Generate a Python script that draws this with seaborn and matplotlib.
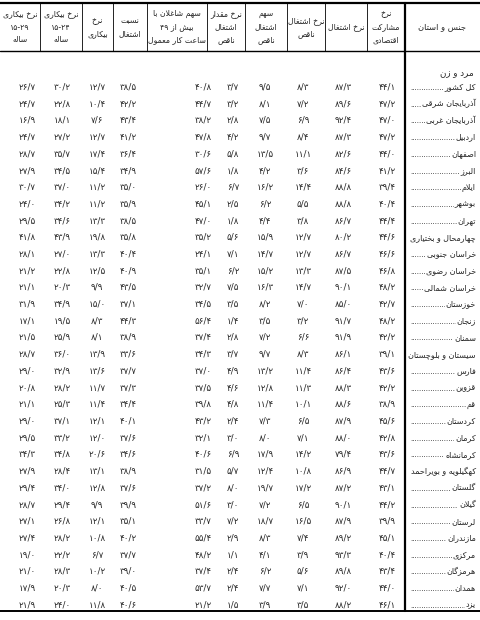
import re
import matplotlib
matplotlib.use("Agg")
import matplotlib.pyplot as plt
import seaborn as sns

# provinces, top to bottom
provinces = ["کل کشور", "آذربایجان شرقی", "آذربایجان غربی", "اردبیل", "اصفهان", "البرز",
             "ایلام", "بوشهر", "تهران", "چهارمحال و بختیاری", "خراسان جنوبی", "خراسان رضوی",
             "خراسان شمالی", "خوزستان", "زنجان", "سمنان", "سیستان و بلوچستان", "فارس",
             "قزوین", "قم", "کردستان", "کرمان", "کرمانشاه", "کهگیلویه و بویراحمد", "گلستان",
             "گیلان", "لرستان", "مازندران", "مرکزی", "هرمزگان", "همدان", "یزد"]

participation = [44.1, 47.2, 47.0, 47.2, 44.0, 41.2, 39.4, 40.4, 44.4, 44.6, 46.6, 46.8, 48.2, 42.7, 48.2, 42.2,
                 39.1, 43.6, 42.2, 38.9, 45.6, 42.8, 43.6, 44.7, 43.1, 44.2, 39.9, 45.1, 40.4, 43.4, 44.0, 46.1]
employment = [87.3, 89.6, 92.4, 87.3, 82.6, 84.6, 88.8, 88.8, 86.7, 80.2, 86.7, 87.5, 90.1, 85.0, 91.7, 91.9,
              86.1, 86.4, 88.3, 88.6, 87.9, 88.0, 79.4, 86.9, 87.2, 90.1, 87.9, 89.2, 93.3, 89.8, 92.0, 88.2]
underemp_rate = [8.3, 7.2, 6.9, 8.4, 11.1, 3.6, 14.4, 5.5, 3.8, 12.7, 12.7, 13.3, 14.7, 7.0, 3.2, 6.6,
                 8.3, 11.4, 11.3, 10.1, 6.5, 7.1, 14.2, 10.8, 17.2, 6.5, 16.5, 7.4, 3.9, 5.6, 7.1, 3.5]
underemp_share = [9.5, 8.1, 7.5, 9.7, 13.5, 4.2, 16.2, 6.2, 4.4, 15.9, 14.7, 15.2, 16.3, 8.2, 3.5, 7.2,
                  9.7, 13.2, 12.8, 11.4, 7.3, 8.0, 17.9, 12.4, 19.7, 7.2, 18.7, 8.3, 4.1, 6.2, 7.7, 3.9]
underemp_amount = [3.7, 3.2, 2.8, 4.2, 5.8, 1.8, 6.7, 2.5, 1.8, 5.6, 7.1, 6.2, 7.5, 3.5, 1.4, 2.8,
                   3.7, 4.9, 4.6, 4.8, 2.4, 3.0, 6.9, 5.7, 8.0, 3.0, 7.2, 2.9, 1.1, 2.4, 2.4, 1.5]
over49_share = [40.8, 44.7, 38.2, 47.8, 30.6, 57.6, 26.0, 45.1, 47.0, 35.2, 24.1, 35.1, 32.7, 34.5, 56.4, 37.4,
                34.3, 37.0, 37.5, 39.8, 43.2, 32.1, 40.6, 31.5, 37.2, 51.6, 33.7, 55.4, 48.2, 37.4, 53.7, 21.2]
emp_ratio = [38.5, 42.2, 43.4, 41.2, 36.4, 34.9, 35.0, 35.9, 38.5, 35.8, 40.4, 40.9, 43.5, 37.1, 44.3, 38.9,
             33.6, 37.7, 37.3, 34.4, 40.1, 37.6, 34.6, 38.9, 37.6, 39.9, 35.1, 40.2, 37.7, 39.0, 40.5, 40.6]
unemployment = [12.7, 10.4, 7.6, 12.7, 17.4, 15.4, 11.2, 11.2, 13.3, 19.8, 13.3, 12.5, 9.9, 15.0, 8.3, 8.1,
                13.9, 13.6, 11.7, 11.4, 12.1, 12.0, 20.6, 13.1, 12.8, 9.9, 12.1, 10.8, 6.7, 10.2, 8.0, 11.8]
unemp_15_24 = [30.2, 22.8, 18.1, 27.2, 35.7, 34.5, 37.0, 34.2, 34.6, 43.9, 27.0, 22.8, 20.3, 34.9, 19.5, 25.9,
               36.0, 32.9, 28.2, 25.3, 37.1, 33.2, 34.8, 28.4, 34.0, 29.4, 26.8, 28.2, 22.2, 28.3, 20.3, 24.0]
unemp_15_29 = [26.7, 24.7, 16.9, 24.7, 28.7, 27.9, 30.7, 24.0, 29.5, 41.8, 28.1, 21.2, 21.1, 31.9, 17.1, 21.5,
               28.7, 29.0, 20.8, 21.1, 29.0, 29.5, 34.3, 27.9, 29.4, 28.7, 27.1, 27.4, 19.0, 21.0, 17.9, 21.9]

headers = [
    ["نرخ بیکاری", "۱۵-۲۹", "ساله"],
    ["نرخ بیکاری", "۱۵-۲۴", "ساله"],
    ["نرخ", "بیکاری"],
    ["نسبت", "اشتغال"],
    ["سهم شاغلان با", "بیش از ۴۹", "ساعت کار معمول"],
    ["نرخ مقدار", "اشتغال", "ناقص"],
    ["سهم", "اشتغال", "ناقص"],
    ["نرخ اشتغال", "ناقص"],
    ["نرخ اشتغال"],
    ["نرخ", "مشارکت", "اقتصادی"],
]
name_header = "جنس و استان"
group_label = "مرد و زن"

# minimal Arabic-script shaping (matplotlib has no complex text layout)
FORMS = {
    "ا": (0xFE8D, 0xFE8E, None, None), "آ": (0xFE81, 0xFE82, None, None),
    "ب": (0xFE8F, 0xFE90, 0xFE91, 0xFE92), "پ": (0xFB56, 0xFB57, 0xFB58, 0xFB59),
    "ت": (0xFE95, 0xFE96, 0xFE97, 0xFE98), "ث": (0xFE99, 0xFE9A, 0xFE9B, 0xFE9C),
    "ج": (0xFE9D, 0xFE9E, 0xFE9F, 0xFEA0), "چ": (0xFB7A, 0xFB7B, 0xFB7C, 0xFB7D),
    "ح": (0xFEA1, 0xFEA2, 0xFEA3, 0xFEA4), "خ": (0xFEA5, 0xFEA6, 0xFEA7, 0xFEA8),
    "د": (0xFEA9, 0xFEAA, None, None), "ذ": (0xFEAB, 0xFEAC, None, None),
    "ر": (0xFEAD, 0xFEAE, None, None), "ز": (0xFEAF, 0xFEB0, None, None),
    "ژ": (0xFB8A, 0xFB8B, None, None),
    "س": (0xFEB1, 0xFEB2, 0xFEB3, 0xFEB4), "ش": (0xFEB5, 0xFEB6, 0xFEB7, 0xFEB8),
    "ص": (0xFEB9, 0xFEBA, 0xFEBB, 0xFEBC), "ض": (0xFEBD, 0xFEBE, 0xFEBF, 0xFEC0),
    "ط": (0xFEC1, 0xFEC2, 0xFEC3, 0xFEC4), "ظ": (0xFEC5, 0xFEC6, 0xFEC7, 0xFEC8),
    "ع": (0xFEC9, 0xFECA, 0xFECB, 0xFECC), "غ": (0xFECD, 0xFECE, 0xFECF, 0xFED0),
    "ف": (0xFED1, 0xFED2, 0xFED3, 0xFED4), "ق": (0xFED5, 0xFED6, 0xFED7, 0xFED8),
    "ک": (0xFB8E, 0xFB8F, 0xFB90, 0xFB91), "گ": (0xFB92, 0xFB93, 0xFB94, 0xFB95),
    "ل": (0xFEDD, 0xFEDE, 0xFEDF, 0xFEE0), "م": (0xFEE1, 0xFEE2, 0xFEE3, 0xFEE4),
    "ن": (0xFEE5, 0xFEE6, 0xFEE7, 0xFEE8), "و": (0xFEED, 0xFEEE, None, None),
    "ه": (0xFEE9, 0xFEEA, 0xFEEB, 0xFEEC), "ی": (0xFBFC, 0xFBFD, 0xFBFE, 0xFBFF),
}


def dual(ch):
    return ch in FORMS and FORMS[ch][2] is not None


def shape(text):
    out = []
    i = 0
    while i < len(text):
        c = text[i]
        if c not in FORMS:
            out.append(c)
            i += 1
            continue
        prev = text[i - 1] if i > 0 else ""
        joins_prev = dual(prev)
        nxt = text[i + 1] if i + 1 < len(text) else ""
        if c == "ل" and nxt in ("ا", "آ"):
            lig = (0xFEFB, 0xFEFC) if nxt == "ا" else (0xFEF5, 0xFEF6)
            out.append(chr(lig[1] if joins_prev else lig[0]))
            i += 2
            continue
        joins_next = dual(c) and nxt in FORMS
        iso, fin, ini, med = FORMS[c]
        if joins_prev and joins_next:
            code = med
        elif joins_prev:
            code = fin
        elif joins_next:
            code = ini
        else:
            code = iso
        out.append(chr(code))
        i += 1
    s = "".join(out)[::-1]
    # keep numbers left to right
    return re.sub(r"[۰-۹/\-]+", lambda m: m.group(0)[::-1], s)


PDIGITS = str.maketrans("0123456789.", "۰۱۲۳۴۵۶۷۸۹/")


def fa(v):
    return f"{v:.1f}".translate(PDIGITS)


sns.set_style("white")
plt.rcParams["font.family"] = ["DejaVu Sans", "Noto Sans"]

columns = [unemp_15_29, unemp_15_24, unemployment, emp_ratio, over49_share,
           underemp_amount, underemp_share, underemp_rate, employment, participation]
col_edges = [0, 40, 82, 113, 147, 207, 245, 287, 325, 367, 405, 480]
val_x = [27, 62, 97, 128, 203, 233, 265, 303, 343, 387]

fig = plt.figure(figsize=(4.8, 6.2), dpi=100)
ax = fig.add_axes([0, 0, 1, 1])
ax.set_xlim(0, 480)
ax.set_ylim(620, 0)
ax.axis("off")

# header
ax.plot([0, 480], [3, 3], color="black", lw=1.6)
ax.plot([0, 480], [51, 51], color="black", lw=1.0)
for x in col_edges[1:-1]:
    ax.plot([x, x], [3, 51], color="black", lw=0.6)
for i, lines in enumerate(headers):
    cx = (col_edges[i] + col_edges[i + 1]) / 2
    n = len(lines)
    for j, t in enumerate(lines):
        y = 27 + (j - (n - 1) / 2) * 13
        ax.text(cx, y, shape(t), ha="center", va="center", fontsize=5.6)
ax.text(442, 27, shape(name_header), ha="center", va="center", fontsize=6)

# body
ax.plot([405, 405], [3, 611], color="black", lw=1.6)
ax.plot([0, 480], [611, 611], color="black", lw=1.4)
ax.text(474, 74, shape(group_label), ha="right", va="center", fontsize=6.3)

row_y0, row_h = 87, 16.7
for r, name in enumerate(provinces):
    y = row_y0 + r * row_h
    for c, vals in enumerate(columns):
        ax.text(val_x[c], y, fa(vals[r]), ha="center", va="center", fontsize=6.3)
    ax.text(410, y + 1, "." * 28, ha="left", va="center", fontsize=5)
    ax.text(476, y, shape(name), ha="right", va="center", fontsize=5.8,
            bbox=dict(facecolor="white", edgecolor="none", pad=0.6))

fig.savefig("out.png", dpi=100, facecolor="white")
